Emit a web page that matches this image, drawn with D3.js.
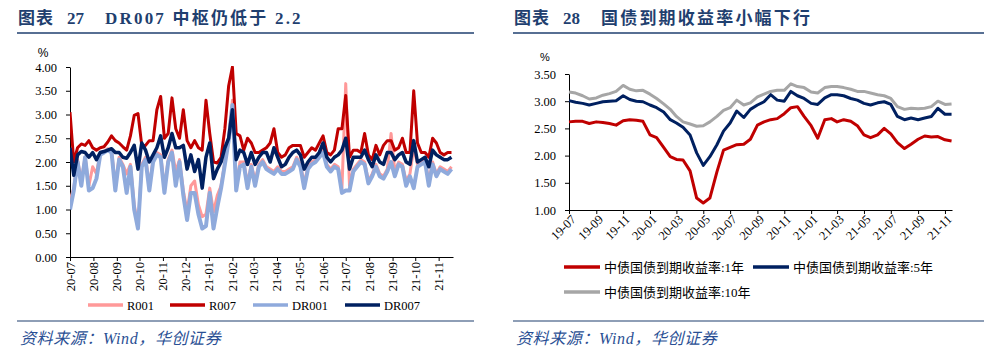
<!DOCTYPE html>
<html>
<head>
<meta charset="utf-8">
<script src="https://cdn.jsdelivr.net/npm/d3@7"></script>
<style>
  body { margin: 0; background: #fff; }
  svg { display: block; }
  .ttl { font-family: "Liberation Serif", "Noto Sans CJK SC", serif; font-weight: bold; font-size: 17px; fill: #1f3f6f; }
  .tick text, .lbl { font-family: "Liberation Serif", "Noto Sans CJK SC", serif; font-size: 12.5px; fill: #000; }
  .src { font-family: "Liberation Serif", "Noto Sans CJK SC", serif; font-style: italic; font-size: 16px; fill: #2a4f94; }
</style>
</head>
<body>
<div id="chart"></div>
<script>
// ---------- Data: figure 27 (every 5 days from 2020-07-01) ----------
var left_start  = new Date(2020, 6, 1);
var left_end    = new Date(2021, 10, 20);

var r001  = [1.2,1.45,2.05,1.6,2.1,1.5,1.9,1.75,2.2,2.22,2.28,2.25,1.5,2.1,1.95,1.75,1.95,1.1,0.65,1.95,2.1,1.5,2.05,2.2,2.15,1.45,2.05,2.25,1.8,2.05,1.4,0.95,1.5,1.6,
             1.1,0.85,0.9,1.45,0.95,1.3,1.5,2.0,2.5,3.3,1.5,2.0,2.0,1.55,1.95,1.6,1.95,2.05,1.9,1.85,1.8,1.9,1.8,1.8,1.85,1.9,2.1,1.95,1.55,1.9,2.0,2.05,2.15,2.3,
             1.95,1.85,1.95,1.9,1.45,3.65,1.5,1.85,1.95,2.05,2.0,1.6,1.75,1.95,1.75,1.7,1.85,2.6,1.8,2.0,1.95,1.6,1.75,2.3,1.95,2.0,2.05,1.6,2.0,1.75,1.9,1.85,1.8,1.9];
var r007  = [3.05,2.0,2.3,2.38,2.35,2.45,2.3,2.25,2.3,2.32,2.42,2.55,2.45,2.4,2.32,2.25,2.55,2.98,3.02,2.35,2.35,2.45,2.45,3.1,3.38,2.5,2.6,3.35,2.7,2.5,3.1,2.45,2.3,2.45,
             2.3,2.25,3.3,2.6,2.0,1.98,2.1,2.7,3.6,4.0,2.6,2.55,2.25,2.5,2.4,2.2,2.2,2.25,2.3,2.4,2.7,2.2,2.1,2.15,2.3,2.35,2.35,2.35,2.1,2.2,2.3,2.25,2.4,2.55,
             2.2,2.15,2.25,2.7,2.7,3.4,2.1,2.25,2.25,2.2,2.6,2.15,2.05,2.35,2.15,2.35,2.45,2.45,2.25,2.3,2.5,2.2,2.2,3.5,2.4,2.2,2.2,2.1,2.5,2.4,2.2,2.15,2.2,2.2];
var dr001 = [1.0,1.4,2.0,1.5,2.1,1.4,1.45,1.65,2.15,2.2,2.25,2.2,1.4,2.05,1.9,1.35,1.9,1.0,0.6,1.9,2.05,1.4,2.0,2.15,2.1,1.35,2.0,2.2,1.5,2.0,1.3,0.78,1.35,1.35,
             0.9,0.6,0.65,1.35,0.6,1.05,1.45,1.95,2.45,3.2,1.4,1.9,1.95,1.45,1.9,1.5,1.9,2.0,1.85,1.8,1.75,1.85,1.75,1.75,1.8,1.85,2.05,1.9,1.45,1.85,1.95,2.0,2.1,2.2,
             1.9,1.8,1.9,1.85,1.35,1.4,1.4,1.8,1.9,2.0,1.95,1.55,1.7,1.9,1.7,1.65,1.8,2.0,1.7,1.95,1.9,1.5,1.7,1.45,1.9,1.95,2.0,1.5,1.95,1.7,1.85,1.8,1.75,1.85];
var dr007 = [2.3,1.72,2.15,2.22,2.2,2.1,2.2,2.05,2.2,2.22,2.25,2.28,2.2,2.2,2.1,2.08,2.2,2.35,1.85,2.4,2.25,2.0,2.15,2.3,2.55,2.1,2.3,2.6,2.3,2.3,2.35,1.85,2.15,1.8,
             2.05,1.45,2.1,2.4,1.65,1.85,2.0,2.3,2.5,3.1,2.05,2.25,2.2,1.95,2.2,1.95,2.1,2.2,2.2,2.0,2.3,2.1,1.9,1.95,2.1,2.2,2.25,2.15,1.85,2.0,2.1,2.1,2.2,2.4,
             2.1,2.0,2.1,2.15,2.25,2.5,1.85,2.1,2.1,2.1,2.25,2.05,1.9,2.15,2.0,1.95,2.2,2.2,2.05,2.15,2.2,2.0,1.95,2.45,2.0,2.05,2.1,1.9,2.25,2.15,2.1,2.05,2.05,2.1];
var left_ticks  = [0, 0.5, 1, 1.5, 2, 2.5, 3, 3.5, 4];
var left_names  = ['R001', 'R007', 'DR001', 'DR007'];

// ---------- Data: figure 28 (1st and 16th of each month from 2019-07) ----------
var right_start = new Date(2019, 6, 1);
var right_end   = new Date(2021, 10, 17);

var y1  = [2.62,2.63,2.63,2.59,2.62,2.61,2.59,2.56,2.64,2.66,2.65,2.63,2.38,2.33,2.15,1.98,1.93,1.92,1.72,1.22,1.13,1.22,1.70,2.10,2.15,2.20,2.21,2.30,2.56,2.62,
           2.66,2.68,2.77,2.88,2.90,2.72,2.55,2.32,2.66,2.68,2.62,2.66,2.63,2.55,2.38,2.33,2.38,2.50,2.40,2.24,2.13,2.21,2.30,2.36,2.34,2.35,2.29,2.27];
var y5  = [3.01,2.98,2.96,2.93,2.96,2.99,3.00,3.01,3.10,3.03,3.00,2.99,2.93,2.88,2.80,2.66,2.60,2.52,2.38,2.05,1.82,1.98,2.20,2.45,2.60,2.82,2.70,2.85,2.93,2.99,
           3.12,3.02,3.00,3.18,3.10,3.05,2.96,2.94,3.06,3.12,3.12,3.10,3.05,3.02,2.96,2.93,2.97,2.99,2.94,2.72,2.66,2.69,2.66,2.69,2.72,2.87,2.76,2.76];
var y10 = [3.17,3.15,3.10,3.04,3.06,3.11,3.14,3.18,3.29,3.22,3.19,3.20,3.13,3.05,2.95,2.85,2.72,2.62,2.58,2.54,2.55,2.62,2.72,2.83,2.88,3.02,2.93,2.97,3.08,3.13,
           3.18,3.20,3.20,3.32,3.27,3.25,3.17,3.15,3.25,3.27,3.27,3.25,3.22,3.18,3.18,3.15,3.12,3.10,3.05,2.90,2.85,2.87,2.86,2.87,2.90,3.00,2.94,2.95];
var right_ticks = [1, 1.5, 2, 2.5, 3, 3.5];
var right_names = ['中债国债到期收益率:1年', '中债国债到期收益率:5年', '中债国债到期收益率:10年'];

var chart_width  = 989;
var chart_height = 353;

var svg = d3.select("#chart")
    .append("svg")
    .attr("width", chart_width)
    .attr("height", chart_height);

// dates
var left_dates = r001.map(function(d, i) { return d3.timeDay.offset(left_start, 5 * i); });
var right_dates = y1.map(function(d, i) {
    return new Date(2019, 6 + Math.floor(i / 2), i % 2 ? 16 : 1);
});

// ---------- Headers and footers ----------
function header(x0, x1, num, text, textX, spacing) {
    var t = svg.append("text").attr("class", "ttl").attr("y", 24);
    t.append("tspan").attr("x", x0 + 1).attr("letter-spacing", "1px").text("图表");
    t.append("tspan").attr("x", x0 + 50).text(num);
    t.append("tspan").attr("x", textX).attr("letter-spacing", spacing).text(text);
    svg.append("line")
        .attr("x1", x0).attr("x2", x1).attr("y1", 33).attr("y2", 33)
        .attr("stroke", "#1f3f6f").attr("stroke-width", 1.5);
    svg.append("line")
        .attr("x1", x0).attr("x2", x1).attr("y1", 321).attr("y2", 321)
        .attr("stroke", "#1f3f6f").attr("stroke-width", 1.2);
    svg.append("text").attr("class", "src")
        .attr("x", x0 + 3).attr("y", 344)
        .attr("letter-spacing", "0.6px")
        .text("资料来源：Wind，华创证券");
}
header(17, 474, "27", "DR007 中枢仍低于 2.2", 105, "2.2px");
header(513, 984, "28", "国债到期收益率小幅下行", 601, "2.2px");

// ---------- Left chart ----------
var lx = d3.scaleTime().domain([left_start, left_end]).range([70, 453]);
var ly = d3.scaleLinear().domain([0, 4]).range([257, 67]);

var left_g = svg.append("g");

left_g.append("g")
    .attr("transform", "translate(70,0)")
    .call(d3.axisLeft(ly).tickValues(left_ticks).tickFormat(d3.format(".2f")).tickSize(4).tickSizeOuter(0))
    .call(function(g) {
        g.select(".domain").attr("stroke", "#000");
        g.selectAll(".tick text").attr("dx", "-6px");
    });

left_g.append("g")
    .attr("transform", "translate(0,257)")
    .call(d3.axisBottom(lx).ticks(d3.timeMonth.every(1)).tickFormat(d3.timeFormat("%y-%m")).tickSize(4).tickSizeOuter(0))
    .call(function(g) {
        g.selectAll(".tick text")
            .attr("text-anchor", "end")
            .attr("transform", "translate(4,1) rotate(-90)")
            .attr("x", -4).attr("y", 0).attr("dy", 0);
    });

left_g.append("text").attr("class", "lbl")
    .attr("x", 43).attr("y", 57).attr("text-anchor", "middle")
    .style("font-family", "Liberation Sans").style("font-size", "12px")
    .text("%");

svg.append("clipPath").attr("id", "lclip")
    .append("rect").attr("x", 70).attr("y", 66).attr("width", 384).attr("height", 192);

var left_series = [r001, r007, dr001, dr007];
var left_colors = ['#ff9999', '#c00000', '#8faadc', '#002060'];
var left_widths = [3, 3, 4, 3.5];

var lline = d3.line()
    .x(function(d, i) { return lx(left_dates[i]); })
    .y(function(d) { return ly(d); });

left_g.append("g").attr("clip-path", "url(#lclip)")
    .selectAll("path")
    .data(left_series)
    .enter()
    .append("path")
    .attr("d", lline)
    .attr("fill", "none")
    .attr("stroke", function(d, i) { return left_colors[i]; })
    .attr("stroke-width", function(d, i) { return left_widths[i]; })
    .attr("stroke-linejoin", "round");

// legend
var left_leg_x = [88, 170, 253, 345];
var lleg = left_g.selectAll(".lleg")
    .data(left_names)
    .enter()
    .append("g")
    .attr("transform", function(d, i) { return "translate(" + left_leg_x[i] + ",305)"; });
lleg.append("line")
    .attr("x1", 0).attr("x2", 35)
    .attr("stroke", function(d, i) { return left_colors[i]; })
    .attr("stroke-width", 3.5);
lleg.append("text").attr("class", "lbl")
    .attr("x", 39).attr("y", 4.5)
    .text(function(d) { return d; });

// ---------- Right chart ----------
var rx = d3.scaleTime().domain([right_start, right_end]).range([569, 952]);
var ry = d3.scaleLinear().domain([1, 3.5]).range([210, 74]);

var right_g = svg.append("g");

right_g.append("g")
    .attr("transform", "translate(569,0)")
    .call(d3.axisLeft(ry).tickValues(right_ticks).tickFormat(d3.format(".2f")).tickSize(4).tickSizeOuter(0))
    .call(function(g) {
        g.selectAll(".tick text").attr("dx", "-6px");
    });

right_g.append("g")
    .attr("transform", "translate(0,210)")
    .call(d3.axisBottom(rx).ticks(d3.timeMonth.every(2)).tickFormat(d3.timeFormat("%y-%m")).tickSize(4).tickSizeOuter(0))
    .call(function(g) {
        g.selectAll(".tick text")
            .attr("text-anchor", "end")
            .attr("transform", "translate(4,7) rotate(-45)")
            .attr("x", 0).attr("y", 0).attr("dy", "0.35em");
    });

right_g.append("text").attr("class", "lbl")
    .attr("x", 545).attr("y", 61).attr("text-anchor", "middle")
    .style("font-family", "Liberation Sans").style("font-size", "11px")
    .text("%");

var right_series = [y1, y5, y10];
var right_colors = ['#c00000', '#002060', '#a6a6a6'];

var rline = d3.line()
    .x(function(d, i) { return rx(right_dates[i]); })
    .y(function(d) { return ry(d); });

right_g.append("g")
    .selectAll("path")
    .data(right_series)
    .enter()
    .append("path")
    .attr("d", rline)
    .attr("fill", "none")
    .attr("stroke", function(d, i) { return right_colors[i]; })
    .attr("stroke-width", 3)
    .attr("stroke-linejoin", "round");

var right_leg_pos = [[564, 267], [753, 267], [564, 292]];
var rleg = right_g.selectAll(".rleg")
    .data(right_names)
    .enter()
    .append("g")
    .attr("transform", function(d, i) { return "translate(" + right_leg_pos[i][0] + "," + right_leg_pos[i][1] + ")"; });
rleg.append("line")
    .attr("x1", 0).attr("x2", 36)
    .attr("stroke", function(d, i) { return right_colors[i]; })
    .attr("stroke-width", 3.5);
rleg.append("text").attr("class", "lbl")
    .attr("x", 40).attr("y", 5)
    .style("font-size", "13px")
    .text(function(d) { return d; });
</script>
</body>
</html>
